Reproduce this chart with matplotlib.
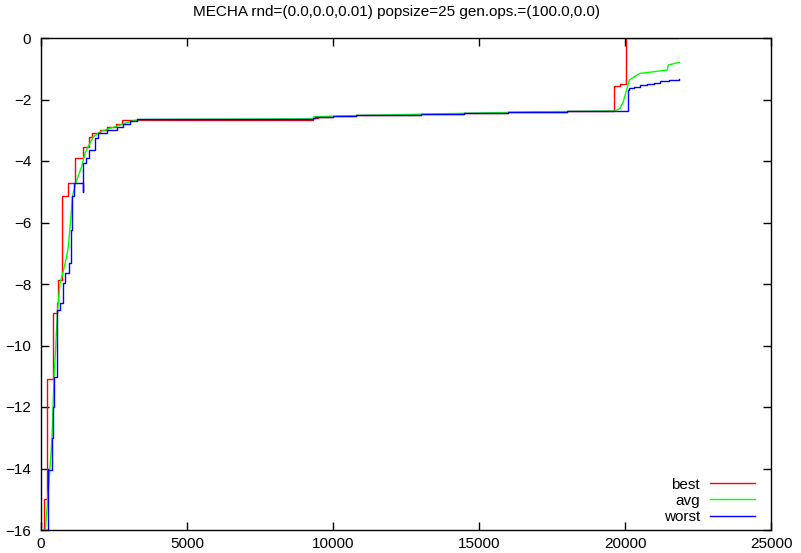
"""
MECHA: best / avg / worst fitness vs evaluations (gnuplot-like look).
"""
import matplotlib
matplotlib.use("Agg")
import matplotlib.pyplot as plt

plt.rcParams["font.family"] = ["Liberation Sans", "DejaVu Sans"]
plt.rcParams["font.size"] = 11

TITLE = "MECHA rnd=(0.0,0.0,0.01) popsize=25 gen.ops.=(100.0,0.0)"

# best (step curve)
x_best = [0, 103, 216, 421, 559, 594, 730, 936, 1153, 1450, 1644, 1735, 2021,
          2249, 2569, 2763, 9300, 9500, 10000, 10800, 11500, 12000, 12500,
          13000, 13500, 14000, 14500, 15000, 15500, 16000, 16500, 17000, 17500,
          18000, 18500, 19000, 19630, 19830, 20025, 21830]
y_best = [-16.0, -15.0, -11.1, -8.95, -8.61, -7.87, -5.13, -4.70, -3.89, -3.53,
          -3.23, -3.08, -2.99, -2.88, -2.80, -2.67, -2.60, -2.57, -2.55, -2.52,
          -2.51, -2.50, -2.49, -2.48, -2.47, -2.46, -2.45, -2.44, -2.43, -2.42,
          -2.41, -2.40, -2.40, -2.39, -2.38, -2.37, -1.56, -1.51, 0.0, 0.0]

# avg
x_avg = [150, 308, 377, 422, 445, 500, 560, 651, 760, 856, 936, 1016, 1073,
         1222, 1393, 1507, 1621, 1792, 2021, 2363, 2705, 3161, 3390, 9300, 9350,
         10800, 13000, 15000, 17000, 19000, 19660, 19830, 19940, 20055, 20150,
         20300, 20510, 20960, 21450, 21480, 21860]
y_avg = [-16.0, -14.0, -13.0, -11.7, -11.07, -10.1, -8.95, -7.98, -7.6, -7.2,
         -6.79, -5.92, -5.16, -4.62, -4.18, -3.75, -3.53, -3.21, -3.05, -2.94,
         -2.83, -2.69, -2.65, -2.63, -2.56, -2.52, -2.48, -2.44, -2.40, -2.38,
         -2.37, -2.29, -2.07, -1.69, -1.37, -1.27, -1.15, -1.10, -1.04, -0.88,
         -0.79]

# worst (step curve)
x_worst = [194, 250, 365, 400, 450, 560, 650, 740, 820, 960, 1020, 1062, 1142,
           1450, 1450, 1541, 1655, 1850, 1964, 2250, 2592, 2820, 3048, 3276,
           9300, 9400, 10000, 10800, 11500, 12000, 12500, 13000, 13500, 14000,
           14500, 15000, 15500, 16000, 16500, 17000, 17500, 18000, 18500, 19000,
           20090, 20150, 20300, 20500, 20740, 21000, 21200, 21500, 21860]
y_worst = [-16.0, -14.05, -13.0, -12.0, -11.01, -8.85, -8.63, -7.98, -7.65,
           -7.33, -6.24, -5.13, -4.73, -5.0, -4.08, -3.91, -3.64, -3.26, -3.10,
           -2.99, -2.88, -2.80, -2.69, -2.65, -2.61, -2.57, -2.55, -2.52, -2.51,
           -2.50, -2.49, -2.48, -2.47, -2.46, -2.45, -2.44, -2.43, -2.42, -2.41,
           -2.40, -2.40, -2.39, -2.38, -2.37, -1.69, -1.62, -1.58, -1.53, -1.50,
           -1.45, -1.40, -1.36, -1.34]

x_ticks = [0, 5000, 10000, 15000, 20000, 25000]
y_ticks = [0, -2, -4, -6, -8, -10, -12, -14, -16]

fig = plt.figure(figsize=(8.01, 5.53), dpi=100)
ax = fig.add_axes([41 / 801, 1 - 530 / 553, 730 / 801, 492 / 553])

ax.plot(x_best, y_best, color="#ff0000", lw=1, drawstyle="steps-post", label="best")
ax.plot(x_avg, y_avg, color="#00ff00", lw=1, label="avg")
ax.plot(x_worst, y_worst, color="#0000ff", lw=1, drawstyle="steps-post", label="worst")

ax.set_xlim(0, 25000)
ax.set_ylim(-16, 0)
ax.set_xticks(x_ticks)
ax.set_yticks(y_ticks)
ax.tick_params(direction="in", length=6, width=1, top=True, right=True,
               labelsize=11, colors="black")
ax.tick_params(axis="y", pad=7)
ax.tick_params(axis="x", pad=5)
for s in ax.spines.values():
    s.set_linewidth(1)
    s.set_color("black")

# gnuplot centres the title on the whole canvas
fig.text(0.495, 1 - 12 / 553, TITLE, fontsize=11, ha="center", va="center")

ax.legend(loc="lower right", bbox_to_anchor=(0.978, 0.012), frameon=False,
          markerfirst=False, handlelength=2.95, handletextpad=0.65,
          labelspacing=0.15, borderpad=0, borderaxespad=0, fontsize=11)

fig.savefig("out.png", dpi=100)
